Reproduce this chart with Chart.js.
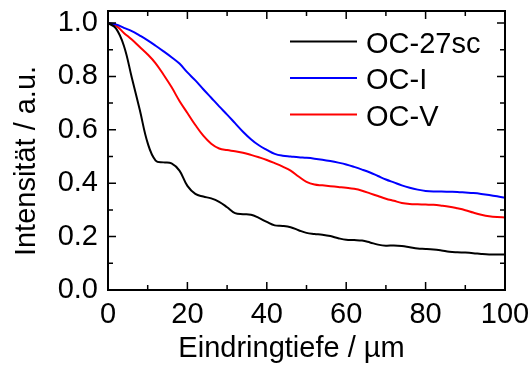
<!DOCTYPE html>
<html>
<head>
<meta charset="utf-8">
<script src="https://cdn.jsdelivr.net/npm/chart.js@4/dist/chart.umd.min.js"></script>
<style>
html,body{margin:0;padding:0;background:#fff;}
#wrap{width:530px;height:365px;position:relative;}
</style>
</head>
<body>
<div id="wrap"><canvas id="c" width="530" height="365"></canvas></div>
<script>
const depth = [0,2,4,6,8,10,12,14,16,18,20,22,24,26,28,30,32,34,36,38,40,42,44,46,48,50,52,54,56,58,60,62,64,66,68,70,72,74,76,78,80,82,84,86,88,90,92,94,96,98,100];
const oc27sc = [1.0,0.98,0.915,0.795,0.675,0.55,0.485,0.478,0.474,0.447,0.39,0.36,0.35,0.343,0.33,0.31,0.288,0.284,0.282,0.27,0.255,0.242,0.24,0.235,0.224,0.214,0.21,0.207,0.202,0.194,0.188,0.187,0.185,0.178,0.17,0.166,0.167,0.165,0.16,0.155,0.154,0.152,0.148,0.143,0.141,0.14,0.138,0.135,0.133,0.133,0.133];
const ocI = [1.0,0.995,0.982,0.97,0.953,0.935,0.915,0.894,0.872,0.848,0.815,0.785,0.752,0.72,0.688,0.657,0.625,0.593,0.565,0.542,0.525,0.51,0.503,0.5,0.497,0.495,0.492,0.488,0.483,0.477,0.47,0.461,0.451,0.44,0.427,0.414,0.403,0.392,0.383,0.376,0.371,0.369,0.369,0.368,0.367,0.365,0.363,0.36,0.356,0.351,0.345];
const ocV = [1.0,0.99,0.963,0.938,0.91,0.882,0.849,0.806,0.76,0.708,0.663,0.618,0.578,0.548,0.53,0.524,0.52,0.514,0.506,0.497,0.487,0.475,0.462,0.447,0.425,0.405,0.395,0.392,0.389,0.386,0.383,0.379,0.372,0.362,0.352,0.342,0.334,0.326,0.322,0.321,0.32,0.319,0.316,0.312,0.306,0.299,0.29,0.282,0.276,0.273,0.272];
const seriesNames = ['OC-27sc','OC-I','OC-V'];
const xTicks = [0,20,40,60,80,100];
const yTicks = [0.0,0.2,0.4,0.6,0.8,1.0];
const xTitle = 'Eindringtiefe / µm';
const yTitle = 'Intensität / a.u.';

const FONT = "'Liberation Sans', Arial, sans-serif";
const FS = 29;
const toPts = ys => depth.map((x,i)=>({x:x,y:ys[i]}));
const colors = ['#000000','#0000ff','#ff0000'];
const allSeries = [oc27sc, ocI, ocV];

const framePlugin = {
  id:'frame',
  afterDraw(chart){
    const ctx = chart.ctx, a = chart.chartArea;
    const xs = chart.scales.x, ys = chart.scales.y;
    ctx.save();
    ctx.strokeStyle = '#000'; ctx.lineWidth = 2;
    ctx.strokeRect(a.left, a.top, a.right-a.left, a.bottom-a.top);
    ctx.lineWidth = 1.5;
    ctx.beginPath();
    for (let v=0; v<=100; v+=10){
      const px = xs.getPixelForValue(v);
      const L = (v%20===0)?8:5;
      ctx.moveTo(px, a.bottom); ctx.lineTo(px, a.bottom-L);
      ctx.moveTo(px, a.top); ctx.lineTo(px, a.top+L);
    }
    for (let k=0; k<=10; k++){
      const v = k/10;
      const py = ys.getPixelForValue(v);
      const L = (k%2===0)?8:5;
      ctx.moveTo(a.left, py); ctx.lineTo(a.left+L, py);
      ctx.moveTo(a.right, py); ctx.lineTo(a.right-L, py);
    }
    ctx.stroke();
    // axis titles
    ctx.fillStyle = '#000';
    ctx.font = FS + 'px ' + FONT;
    ctx.textAlign = 'center';
    ctx.textBaseline = 'alphabetic';
    ctx.fillText(xTitle, 291.5, 357);
    ctx.save();
    ctx.translate(35, 161);
    ctx.rotate(-Math.PI/2);
    ctx.fillText(yTitle, 0, 0);
    ctx.restore();
    // legend
    ctx.textAlign = 'left';
    chart.data.datasets.forEach((ds,i)=>{
      const yy = 41.5 + 36.5*i;
      ctx.strokeStyle = ds.borderColor; ctx.lineWidth = 2;
      ctx.beginPath(); ctx.moveTo(290, yy); ctx.lineTo(357, yy); ctx.stroke();
      ctx.fillText(ds.label, 366, yy + 11);
    });
    ctx.restore();
  }
};

new Chart(document.getElementById('c'), {
  type:'line',
  data:{
    datasets: allSeries.map((s,i)=>({
      label: seriesNames[i],
      data: toPts(s),
      borderColor: colors[i],
      backgroundColor: colors[i],
      borderWidth: 2,
      pointRadius: 0,
      fill:false,
      tension:0.4
    }))
  },
  options:{
    responsive:false,
    animation:false,
    layout:{padding:{top:11,right:25,left:0,bottom:0}},
    plugins:{legend:{display:false}, tooltip:{enabled:false}},
    scales:{
      x:{
        type:'linear', min:0, max:100,
        grid:{display:false, drawTicks:false},
        border:{display:false},
        afterBuildTicks(s){ s.ticks = xTicks.map(v=>({value:v})); },
        afterFit(s){ s.height = 75; s.paddingLeft = 0; s.paddingRight = 0; },
        ticks:{color:'#000', font:{family:FONT, size:FS}, padding:8, maxRotation:0, autoSkip:false,
          callback:(v)=>String(v)}
      },
      y:{
        type:'linear', min:0, max:1.045,
        grid:{display:false, drawTicks:false},
        border:{display:false},
        afterBuildTicks(s){ s.ticks = yTicks.map(v=>({value:v})); },
        afterFit(s){ s.width = 108; s.paddingTop = 0; s.paddingBottom = 0; },
        ticks:{color:'#000', font:{family:FONT, size:FS}, padding:10, autoSkip:false,
          callback:(v)=>Number(v).toFixed(1)}
      }
    }
  },
  plugins:[framePlugin]
});
</script>
</body>
</html>
